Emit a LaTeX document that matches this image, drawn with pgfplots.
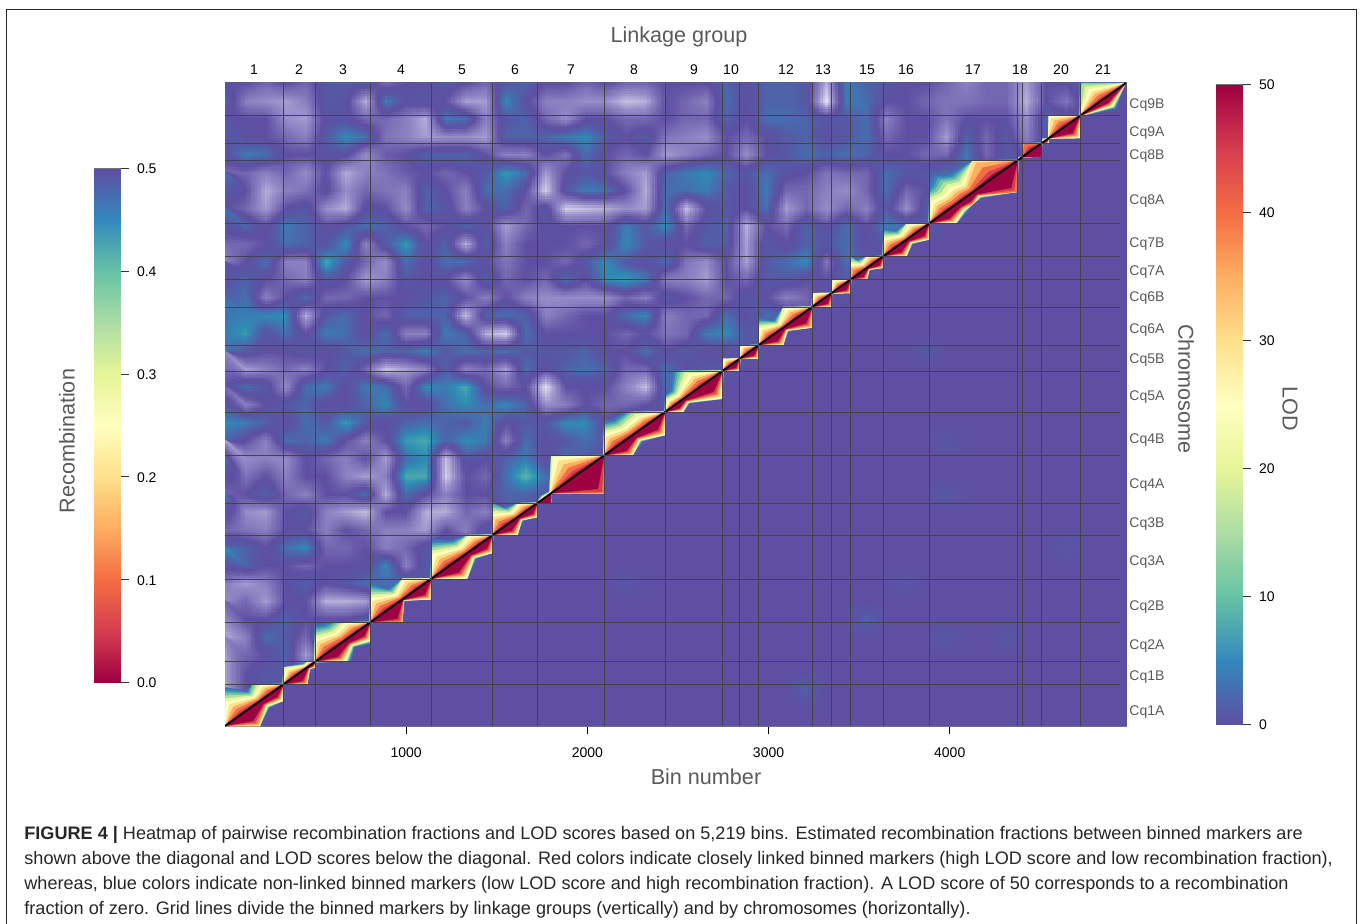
\documentclass[border=0pt]{standalone}
\usepackage{fontspec}
\setmainfont{Liberation Sans}
\usepackage{pgfplots}
\usepackage{pgfplotstable}
\pgfplotsset{compat=1.18}
\usepgfplotslibrary{patchplots}
\definecolor{gl}{RGB}{68,68,72}
\definecolor{gt}{HTML}{5A5A5A}
\definecolor{c0}{RGB}{72,108,176}
\definecolor{c1}{RGB}{50,136,189}
\definecolor{c2}{RGB}{80,169,175}
\definecolor{c3}{RGB}{111,199,164}
\definecolor{c4}{RGB}{171,221,164}
\definecolor{c5}{RGB}{230,245,152}
\definecolor{c6}{RGB}{255,255,191}
\definecolor{c7}{RGB}{254,224,139}
\definecolor{c8}{RGB}{253,174,97}
\definecolor{c9}{RGB}{244,109,67}
\definecolor{c10}{RGB}{213,62,79}
\definecolor{c11}{RGB}{158,1,66}
\pgfplotsset{
 colormap={heat}{rgb255(0pt)=(158,1,66) rgb255(5pt)=(213,62,79) rgb255(10pt)=(244,109,67) rgb255(15pt)=(253,174,97) rgb255(20pt)=(254,224,139) rgb255(25pt)=(255,255,191) rgb255(30pt)=(230,245,152) rgb255(35pt)=(171,221,164) rgb255(40pt)=(102,194,165) rgb255(44pt)=(45,140,180) rgb255(46pt)=(70,110,175) rgb255(48pt)=(86,88,165) rgb255(50pt)=(94,79,162) rgb255(55pt)=(150,140,200) rgb255(60pt)=(225,222,240)},
 colormap={spec}{rgb255(0pt)=(158,1,66) rgb255(5pt)=(213,62,79) rgb255(10pt)=(244,109,67) rgb255(15pt)=(253,174,97) rgb255(20pt)=(254,224,139) rgb255(25pt)=(255,255,191) rgb255(30pt)=(230,245,152) rgb255(35pt)=(171,221,164) rgb255(40pt)=(102,194,165) rgb255(45pt)=(50,136,189) rgb255(50pt)=(94,79,162)},
 colormap={specr}{rgb255(0pt)=(94,79,162) rgb255(5pt)=(50,136,189) rgb255(10pt)=(102,194,165) rgb255(15pt)=(171,221,164) rgb255(20pt)=(230,245,152) rgb255(25pt)=(255,255,191) rgb255(30pt)=(254,224,139) rgb255(35pt)=(253,174,97) rgb255(40pt)=(244,109,67) rgb255(45pt)=(213,62,79) rgb255(50pt)=(158,1,66)},
}
% diagonal profile: u = position on the diagonal, v = half distance of the outer contour, s,e = block limits
\pgfplotstableread{
u v s e
0 0 0 4973
97 150 0 300
193 55 0 4973
257 100 150 322
322 4 0 4973
388 85 322 454
454 22 0 4973
476 30 454 497
497 4 0 4973
580 150 497 802
662 90 0 4973
732 110 497 802
802 4 0 4973
890 160 802 1139
979 60 0 4973
1059 130 979 1139
1139 4 0 4973
1238 150 1139 1477
1338 70 0 4973
1408 100 1338 1477
1477 4 0 4973
1546 150 1477 1724
1615 55 0 4973
1670 80 1615 1724
1724 4 0 4973
1762 15 1724 1800
1800 10 0 4973
1946 220 1800 2092
2092 4 0 4973
2171 140 2092 2430
2250 85 0 4973
2340 95 2092 2430
2430 4 0 4973
2480 60 2430 2747
2530 50 0 4973
2640 130 2430 2747
2747 4 0 4973
2794 65 2747 2841
2841 3 0 4973
2893 75 2841 2945
2945 3 0 4973
3013 105 2945 3241
3081 40 0 4973
3161 110 3081 3241
3241 3 0 4973
3295 75 3241 3348
3348 3 0 4973
3400 70 3348 3453
3453 3 0 4973
3498 120 3453 3633
3543 45 0 4973
3588 75 3543 3633
3633 3 0 4973
3697 115 3633 3887
3762 50 0 4973
3825 85 3762 3887
3887 3 0 4973
3980 130 3887 4375
4037 110 0 4973
4085 130 3887 4375
4130 100 0 4973
4250 300 4130 4376
4375 3 0 4973
4388 10 4375 4402
4402 3 0 4973
4455 200 4402 4507
4507 3 0 4973
4526 15 4507 4546
4546 3 0 4973
4632 150 4546 4719
4719 3 0 4973
4846 127 4719 4973
4973 0 0 4973
}\uptab
\pgfplotstableread{
u v s e
0 0 0 4973
97 125 0 193
193 45 0 4973
257 70 193 322
322 3 0 4973
388 85 322 454
454 15 0 4973
476 24 454 497
497 3 0 4973
580 95 497 802
662 45 0 4973
732 80 497 802
802 3 0 4973
890 130 802 979
979 10 0 4973
1059 95 979 1139
1139 3 0 4973
1238 110 1139 1338
1338 40 0 4973
1408 80 1338 1477
1477 3 0 4973
1546 80 1477 1615
1615 25 0 4973
1670 65 1615 1724
1724 3 0 4973
1762 90 1724 1800
1800 3 0 4973
1946 240 1800 2092
2092 3 0 4973
2171 95 2092 2250
2250 45 0 4973
2340 105 2250 2430
2430 3 0 4973
2480 55 2430 2530
2530 30 0 4973
2640 120 2530 2747
2747 3 0 4973
2794 55 2747 2841
2841 3 0 4973
2893 60 2841 2945
2945 3 0 4973
3013 80 2945 3081
3081 25 0 4973
3161 100 3081 3241
3241 3 0 4973
3295 65 3241 3348
3348 3 0 4973
3400 65 3348 3453
3453 3 0 4973
3498 55 3453 3543
3543 15 0 4973
3588 55 3543 3633
3633 3 0 4973
3697 75 3633 3762
3762 30 0 4973
3825 75 3762 3887
3887 3 0 4973
3960 80 3887 4037
4037 50 0 4973
4085 65 4037 4130
4130 40 0 4973
4250 190 4130 4375
4375 3 0 4973
4388 18 4375 4402
4402 3 0 4973
4455 110 4402 4507
4507 3 0 4973
4526 20 4507 4546
4546 3 0 4973
4632 100 4546 4719
4719 3 0 4973
4846 60 4719 4973
4973 0 0 4973
}\lowtab
\newcommand\upband[2]{\addplot[fill=#2,draw=none] table[x expr={max(\thisrow{s},\thisrow{u}-#1*\thisrow{v})},y expr={min(\thisrow{e},\thisrow{u}+#1*\thisrow{v})}] {\uptab};}
\newcommand\lowband[2]{\addplot[fill=#2,draw=none] table[x expr={min(\thisrow{e},\thisrow{u}+#1*\thisrow{v})},y expr={max(\thisrow{s},\thisrow{u}-#1*\thisrow{v})}] {\lowtab};}
\newcommand\fs[1]{\fontsize{#1}{#1}\selectfont}
\begin{document}
\begin{tikzpicture}[x=0.5pt,y=-0.5pt]
\path[use as bounding box] (0,0) rectangle (1360,924);
\draw[black!85,line width=0.5pt] (6.5,924)--(6.5,9.5)--(1356.5,9.5)--(1356.5,924);
\begin{axis}[at={(112.5pt,-363pt)},anchor=south west,scale only axis,width=450.5pt,height=321.5pt,
 xmin=0,xmax=4973,ymin=0,ymax=4973,
 xtick={1000,2000,3000,4000},xticklabels={1000,2000,3000,4000},ytick=\empty,
 tick pos=bottom,tick align=outside,major tick length=4pt,tick style={black,line width=0.5pt},
 xticklabel style={font=\fs{7},yshift=-3.5pt},
 axis line style={draw=gray!90!black,line width=0.5pt},
 colormap name=heat,point meta min=0,point meta max=60]
\addplot[surf,shader=interp,patch type=bilinear,mesh/cols=46,point meta=explicit] table[header=false,row sep=\\,meta index=0,
 x expr={mod(\coordindex,46)*110.51},y expr={(36-floor(\coordindex/46))*138.14}] {
50\\50\\52\\50\\52\\48\\48\\48\\52\\50\\50\\48\\50\\52\\48\\47\\50\\50\\52\\50\\52\\52\\50\\50\\50\\47\\50\\47\\47\\48\\57\\45\\47\\48\\50\\50\\52\\54\\52\\52\\56\\50\\50\\46\\48\\50\\
47\\54\\55\\56\\54\\48\\49\\57\\45\\49\\48\\50\\56\\56\\44\\49\\54\\54\\55\\55\\58\\57\\50\\52\\54\\46\\50\\47\\47\\48\\60\\45\\46\\50\\50\\52\\53\\53\\52\\52\\57\\50\\53\\48\\50\\50\\
50\\50\\50\\55\\56\\49\\49\\52\\52\\54\\57\\45\\46\\54\\48\\47\\52\\55\\50\\50\\52\\52\\50\\52\\52\\47\\50\\46\\46\\47\\48\\48\\46\\54\\50\\50\\53\\50\\50\\50\\55\\47\\48\\50\\50\\50\\
48\\50\\50\\52\\54\\48\\44\\46\\53\\54\\56\\55\\55\\56\\47\\47\\47\\45\\44\\48\\50\\48\\53\\54\\55\\50\\52\\50\\48\\47\\50\\48\\46\\52\\50\\50\\56\\47\\52\\48\\54\\48\\50\\50\\50\\50\\
49\\45\\46\\50\\50\\49\\49\\55\\51\\50\\47\\47\\47\\50\\54\\54\\50\\53\\46\\50\\52\\50\\56\\54\\52\\50\\55\\50\\48\\46\\47\\46\\47\\50\\50\\52\\52\\45\\52\\48\\50\\50\\50\\50\\50\\50\\
52\\52\\54\\52\\55\\50\\57\\54\\53\\51\\50\\52\\50\\48\\43\\46\\56\\50\\48\\50\\54\\56\\47\\45\\44\\47\\48\\46\\49\\50\\53\\52\\52\\46\\48\\48\\46\\48\\48\\50\\50\\50\\50\\50\\50\\50\\
46\\50\\57\\54\\53\\49\\55\\52\\53\\54\\47\\50\\54\\46\\46\\50\\59\\48\\45\\46\\50\\57\\46\\46\\45\\48\\50\\45\\52\\52\\54\\55\\52\\46\\52\\50\\44\\48\\50\\50\\50\\50\\50\\50\\50\\50\\
50\\52\\56\\50\\48\\55\\57\\49\\50\\55\\47\\48\\54\\50\\47\\52\\48\\59\\58\\57\\55\\56\\46\\58\\50\\48\\50\\46\\56\\52\\55\\52\\54\\48\\55\\48\\48\\50\\50\\50\\50\\50\\50\\50\\50\\50\\
46\\47\\50\\45\\47\\50\\48\\46\\47\\50\\52\\50\\47\\49\\56\\52\\49\\50\\50\\50\\45\\48\\44\\52\\48\\47\\57\\50\\52\\47\\50\\46\\50\\45\\46\\48\\50\\50\\50\\50\\50\\50\\50\\50\\50\\50\\
52\\52\\50\\46\\47\\49\\44\\54\\48\\43\\50\\47\\57\\47\\54\\50\\50\\50\\52\\50\\44\\48\\50\\50\\47\\48\\56\\48\\50\\47\\48\\46\\50\\48\\50\\50\\50\\50\\50\\50\\50\\50\\50\\50\\50\\50\\
54\\50\\46\\54\\54\\42\\48\\52\\55\\46\\50\\46\\46\\50\\53\\50\\50\\52\\48\\44\\48\\50\\46\\53\\55\\50\\56\\48\\46\\44\\53\\46\\48\\50\\50\\50\\50\\50\\50\\50\\50\\50\\50\\50\\50\\50\\
50\\47\\50\\52\\54\\48\\50\\56\\54\\48\\50\\50\\55\\47\\52\\50\\52\\46\\50\\44\\43\\45\\54\\54\\56\\50\\52\\48\\48\\50\\50\\48\\50\\50\\50\\50\\50\\50\\50\\50\\50\\50\\50\\50\\50\\50\\
47\\46\\54\\50\\46\\52\\52\\50\\50\\50\\48\\47\\50\\54\\50\\54\\55\\55\\55\\55\\52\\54\\48\\50\\52\\52\\48\\50\\54\\52\\48\\50\\50\\50\\50\\50\\50\\50\\50\\50\\50\\50\\50\\50\\50\\50\\
46\\45\\44\\44\\57\\48\\46\\50\\52\\47\\47\\47\\58\\47\\46\\47\\54\\52\\50\\50\\46\\44\\54\\52\\52\\46\\50\\46\\47\\50\\50\\50\\50\\50\\50\\50\\50\\50\\50\\50\\50\\50\\50\\50\\50\\50\\
45\\43\\49\\46\\50\\45\\46\\50\\46\\54\\54\\45\\47\\57\\59\\46\\50\\50\\50\\50\\52\\50\\53\\52\\45\\44\\48\\48\\50\\50\\50\\50\\50\\50\\50\\50\\50\\50\\50\\50\\50\\50\\50\\50\\50\\50\\
46\\48\\50\\50\\48\\50\\48\\46\\47\\47\\45\\48\\46\\47\\46\\48\\48\\48\\47\\50\\50\\46\\50\\48\\50\\50\\48\\50\\50\\50\\50\\50\\50\\50\\50\\48\\50\\50\\50\\50\\50\\50\\50\\50\\50\\50\\
54\\56\\54\\52\\54\\50\\47\\52\\58\\56\\54\\47\\54\\52\\56\\46\\50\\47\\46\\47\\52\\52\\46\\50\\48\\48\\50\\50\\50\\50\\50\\50\\50\\50\\50\\50\\50\\50\\50\\50\\50\\50\\50\\50\\50\\50\\
50\\46\\48\\55\\46\\45\\50\\45\\46\\52\\44\\45\\42\\50\\52\\50\\60\\50\\50\\50\\54\\58\\46\\48\\50\\50\\50\\50\\50\\50\\50\\50\\50\\50\\50\\50\\50\\50\\50\\50\\50\\50\\50\\50\\50\\50\\
52\\54\\50\\48\\47\\50\\50\\47\\44\\50\\50\\46\\44\\46\\44\\47\\55\\54\\50\\52\\52\\50\\48\\50\\50\\50\\50\\50\\50\\50\\50\\50\\50\\50\\50\\50\\50\\50\\50\\50\\50\\50\\50\\50\\50\\50\\
44\\45\\47\\50\\46\\48\\43\\48\\50\\47\\46\\47\\48\\45\\50\\48\\48\\44\\44\\50\\46\\48\\50\\50\\50\\50\\50\\50\\50\\50\\50\\50\\50\\50\\50\\50\\50\\50\\50\\50\\50\\50\\50\\50\\50\\50\\
47\\50\\54\\46\\47\\45\\50\\54\\50\\43\\42\\47\\44\\45\\54\\46\\50\\48\\46\\48\\48\\50\\50\\50\\50\\50\\50\\50\\50\\50\\50\\50\\50\\50\\50\\50\\48\\50\\50\\50\\50\\50\\50\\50\\50\\50\\
56\\55\\54\\55\\50\\52\\54\\50\\56\\46\\44\\58\\48\\50\\47\\45\\50\\46\\48\\50\\50\\50\\50\\50\\50\\50\\50\\50\\50\\50\\50\\50\\50\\50\\50\\50\\50\\50\\50\\50\\50\\50\\50\\50\\50\\50\\
47\\53\\50\\54\\50\\50\\54\\56\\54\\42\\42\\59\\50\\52\\46\\41\\46\\48\\50\\50\\50\\50\\50\\50\\50\\50\\50\\50\\50\\50\\50\\50\\50\\50\\50\\50\\50\\50\\50\\50\\50\\50\\50\\50\\50\\50\\
52\\50\\47\\52\\54\\50\\50\\46\\57\\46\\50\\54\\50\\50\\47\\47\\48\\50\\50\\50\\50\\50\\50\\50\\50\\50\\50\\50\\50\\50\\50\\50\\50\\50\\50\\50\\48\\50\\50\\50\\50\\50\\50\\50\\50\\50\\
46\\55\\56\\50\\48\\54\\56\\58\\50\\50\\57\\57\\52\\54\\48\\48\\50\\50\\50\\50\\50\\50\\50\\50\\50\\50\\50\\50\\50\\50\\50\\50\\50\\50\\50\\50\\50\\50\\50\\50\\50\\50\\50\\50\\50\\50\\
52\\53\\54\\50\\50\\54\\50\\52\\54\\54\\56\\50\\54\\48\\50\\50\\50\\50\\50\\50\\50\\50\\50\\50\\50\\50\\50\\50\\50\\50\\50\\50\\50\\50\\50\\50\\50\\50\\50\\50\\50\\50\\50\\50\\50\\50\\
46\\47\\50\\46\\44\\52\\52\\50\\54\\52\\48\\47\\48\\50\\50\\50\\50\\50\\50\\50\\50\\50\\50\\50\\50\\50\\50\\50\\50\\50\\50\\50\\50\\50\\50\\50\\50\\50\\50\\50\\50\\50\\48\\50\\50\\50\\
44\\47\\50\\50\\52\\50\\50\\50\\44\\54\\48\\48\\50\\50\\50\\50\\50\\50\\50\\50\\50\\50\\50\\50\\50\\50\\50\\50\\50\\50\\50\\50\\50\\50\\50\\50\\50\\50\\50\\50\\50\\50\\50\\50\\50\\50\\
54\\56\\54\\50\\47\\50\\48\\46\\46\\46\\48\\50\\50\\50\\50\\50\\50\\50\\50\\50\\48\\50\\50\\50\\50\\50\\50\\50\\50\\50\\50\\50\\50\\50\\48\\50\\50\\50\\50\\50\\50\\50\\50\\50\\50\\50\\
55\\52\\56\\50\\50\\57\\57\\56\\48\\50\\50\\50\\50\\50\\50\\50\\50\\50\\50\\50\\50\\50\\50\\50\\50\\50\\50\\50\\50\\50\\50\\50\\50\\50\\50\\50\\50\\50\\50\\50\\50\\50\\50\\50\\50\\50\\
52\\50\\50\\47\\50\\50\\50\\48\\50\\50\\50\\50\\50\\50\\50\\50\\50\\50\\50\\50\\50\\50\\50\\50\\50\\50\\50\\50\\50\\50\\50\\50\\47\\50\\50\\50\\50\\50\\50\\50\\50\\50\\50\\50\\50\\50\\
57\\54\\46\\48\\52\\44\\48\\50\\50\\50\\50\\50\\50\\50\\50\\50\\50\\50\\50\\50\\50\\50\\50\\50\\50\\50\\50\\50\\50\\50\\50\\50\\50\\50\\50\\50\\48\\50\\50\\48\\50\\50\\50\\50\\50\\50\\
54\\52\\50\\47\\56\\48\\50\\50\\50\\50\\50\\50\\50\\50\\50\\50\\50\\50\\50\\50\\50\\50\\50\\50\\50\\50\\50\\50\\50\\50\\50\\50\\50\\50\\50\\50\\50\\50\\50\\50\\50\\50\\50\\50\\50\\50\\
56\\50\\48\\48\\50\\50\\50\\50\\50\\50\\50\\50\\50\\50\\50\\50\\50\\50\\50\\50\\50\\50\\50\\50\\50\\50\\50\\50\\50\\50\\50\\50\\50\\50\\50\\50\\50\\50\\50\\50\\50\\50\\50\\50\\50\\50\\
56\\50\\48\\50\\50\\50\\50\\50\\50\\50\\50\\50\\50\\50\\50\\50\\50\\50\\50\\50\\50\\50\\50\\50\\50\\50\\50\\50\\50\\47\\50\\50\\50\\50\\50\\50\\50\\50\\50\\50\\50\\50\\50\\50\\50\\50\\
46\\48\\50\\50\\50\\50\\50\\50\\50\\50\\50\\50\\50\\50\\50\\50\\50\\50\\50\\50\\50\\50\\50\\50\\50\\50\\50\\50\\50\\50\\50\\50\\50\\50\\50\\50\\50\\50\\50\\50\\50\\50\\50\\50\\50\\50\\
50\\50\\50\\50\\50\\50\\50\\50\\50\\50\\50\\50\\50\\50\\50\\50\\50\\50\\50\\50\\50\\50\\50\\50\\50\\50\\50\\50\\50\\50\\50\\50\\50\\50\\50\\50\\50\\50\\50\\50\\50\\50\\50\\50\\50\\50\\
};
% upper side: contours of recombination fraction
\upband{1.42}{c0}
\upband{1.28}{c1}
\upband{1.16}{c2}
\upband{1.05}{c3}
\upband{0.93}{c4}
\upband{0.78}{c5}
\upband{0.62}{c6}
\upband{0.48}{c7}
\upband{0.35}{c8}
\upband{0.23}{c9}
\upband{0.12}{c10}
\upband{0.05}{c11}
% lower side: contours of LOD score
\lowband{1.18}{c1}
\lowband{1.07}{c3}
\lowband{0.97}{c5}
\lowband{0.88}{c6}
\lowband{0.80}{c7}
\lowband{0.72}{c8}
\lowband{0.64}{c9}
\lowband{0.56}{c10}
\lowband{0.47}{c11}
\addplot[black,line width=0.9pt] coordinates {(0,0)(4973,4973)};
\pgfplotsinvokeforeach{322,497,802,1139,1477,1724,2092,2430,2747,2841,2945,3241,3348,3453,3633,3887,4375,4402,4507,4720}{
 \addplot[draw=gl,line width=0.4pt] coordinates {(#1,0)(#1,4973)};}
\pgfplotsinvokeforeach{322,497,802,1137,1477,1724,2092,2428,2745,2945,3240,3453,3633,3887,4376,4507,4721}{
 \addplot[draw=gl,line width=0.4pt] coordinates {(0,#1)(4940,#1)};}
\end{axis}
% recombination colour bar
\begin{axis}[at={(47pt,-341.25pt)},anchor=south west,scale only axis,width=13pt,height=257pt,
 xmin=0,xmax=1,ymin=0,ymax=0.5,xtick=\empty,ytick={0,0.1,0.2,0.3,0.4,0.5},
 yticklabels={0.0,0.1,0.2,0.3,0.4,0.5},ytick pos=right,tick align=outside,major tick length=4.5pt,
 tick style={black!80,line width=0.5pt},yticklabel style={font=\fs{7},xshift=0.5pt,yshift=-0.25pt},
 axis line style={draw=gray!90!black,line width=0.4pt},
 colormap name=spec,point meta min=0,point meta max=0.5]
\addplot[surf,shader=interp,mesh/cols=2,point meta=y] coordinates {
(0,0)(1,0) (0,.05)(1,.05) (0,.1)(1,.1) (0,.15)(1,.15) (0,.2)(1,.2) (0,.25)(1,.25)
(0,.3)(1,.3) (0,.35)(1,.35) (0,.4)(1,.4) (0,.45)(1,.45) (0,.5)(1,.5)};
\end{axis}
% LOD colour bar
\begin{axis}[at={(608pt,-362.25pt)},anchor=south west,scale only axis,width=13pt,height=320pt,
 xmin=0,xmax=1,ymin=0,ymax=50,xtick=\empty,ytick={0,10,20,30,40,50},
 yticklabels={0,10,20,30,40,50},ytick pos=right,tick align=outside,major tick length=4.5pt,
 tick style={black!80,line width=0.5pt},yticklabel style={font=\fs{7},xshift=0.5pt,yshift=-0.25pt},
 axis line style={draw=gray!90!black,line width=0.4pt},
 colormap name=specr,point meta min=0,point meta max=50]
\addplot[surf,shader=interp,mesh/cols=2,point meta=y] coordinates {
(0,0)(1,0) (0,5)(1,5) (0,10)(1,10) (0,15)(1,15) (0,20)(1,20) (0,25)(1,25)
(0,30)(1,30) (0,35)(1,35) (0,40)(1,40) (0,45)(1,45) (0,50)(1,50)};
\end{axis}
% linkage group labels
\foreach \x/\t in {254/1,299/2,343/3,401/4,462/5,515/6,571/7,634/8,694/9,731/10,786/12,823/13,867/15,906/16,973/17,1020/18,1061/20,1103/21}
 \node[font=\fs{7},black,yshift=-0.5pt] at (\x,69) {\t};
% chromosome labels
\foreach \y/\t in {103/Cq9B,131/Cq9A,154/Cq8B,199/Cq8A,242/Cq7B,270/Cq7A,296/Cq6B,328/Cq6A,358/Cq5B,395/Cq5A,438/Cq4B,483/Cq4A,522/Cq3B,560/Cq3A,605/Cq2B,644/Cq2A,675/Cq1B,710/Cq1A}
 \node[font=\fs{7},text=gt,anchor=west,inner sep=0pt,yshift=-1pt] at (1129,\y) {\t};
\node[font=\fs{10.8},text=gt,yshift=-1pt] at (679,35) {Linkage group};
\node[font=\fs{10.8},text=gt] at (706,777) {Bin number};
\node[font=\fs{10.8},text=gt,rotate=90] at (67,441) {Recombination};
\node[font=\fs{10.8},text=gt,rotate=-90] at (1186,389) {Chromosome};
\node[font=\fs{10.8},text=gt,rotate=-90] at (1290,409) {LOD};
% caption
\foreach \y/\t in {
 833/{\textbf{FIGURE 4 |} Heatmap of pairwise recombination fractions and LOD scores based on 5,219 bins. Estimated recombination fractions between binned markers are},
 858/{shown above the diagonal and LOD scores below the diagonal. Red colors indicate closely linked binned markers (high LOD score and low recombination fraction),},
 883/{whereas, blue colors indicate non-linked binned markers (low LOD score and high recombination fraction). A LOD score of 50 corresponds to a recombination},
 908/{fraction of zero. Grid lines divide the binned markers by linkage groups (vertically) and by chromosomes (horizontally).}}
 \node[font=\fs{9.05},text=black!85,anchor=west,inner sep=0pt,yshift=-1pt] at (24,\y) {\t};
\end{tikzpicture}
\end{document}
